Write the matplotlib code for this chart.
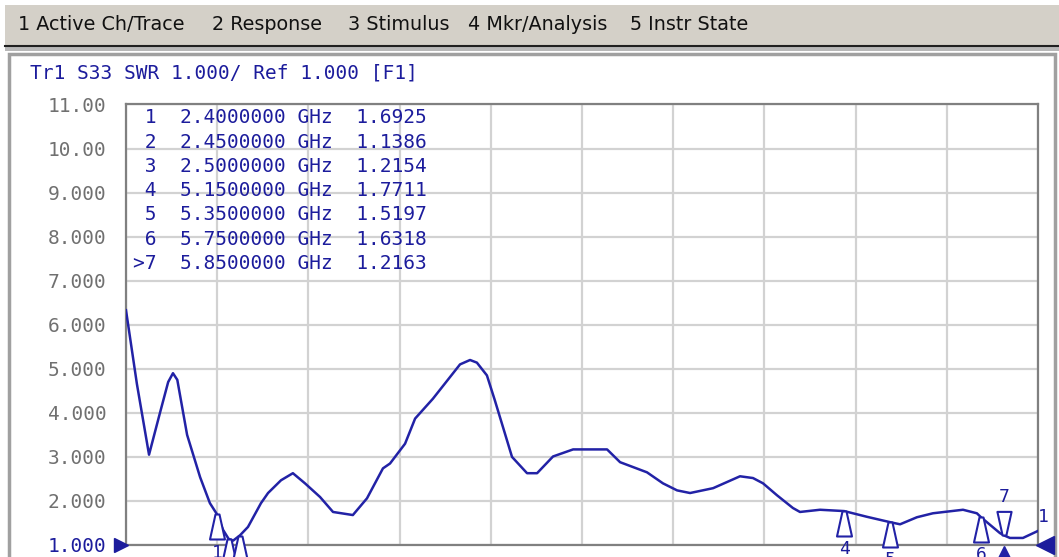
import matplotlib
matplotlib.use('Agg')
import matplotlib.pyplot as plt
from matplotlib.patches import Rectangle
from matplotlib.lines import Line2D
from matplotlib.path import Path
from matplotlib.transforms import offset_copy

# Menu bar items of the analyzer window
menu_items = ['1 Active Ch/Trace', '2 Response', '3 Stimulus', '4 Mkr/Analysis', '5 Instr State']
title = 'Tr1 S33 SWR 1.000/ Ref 1.000 [F1]'

# SWR trace, frequency in GHz
freq = [2.000, 2.048, 2.101, 2.149, 2.185, 2.206, 2.225, 2.268, 2.325, 2.368,
        2.400, 2.425, 2.450, 2.470, 2.500, 2.535, 2.592, 2.623, 2.680, 2.732,
        2.785, 2.851, 2.908, 2.995, 3.057, 3.127, 3.158, 3.224, 3.268, 3.346,
        3.465, 3.509, 3.539, 3.583, 3.618, 3.662, 3.693, 3.759, 3.803, 3.873,
        3.961, 4.110, 4.167, 4.285, 4.355, 4.417, 4.474, 4.575, 4.693, 4.750,
        4.794, 4.855, 4.925, 4.956, 5.044, 5.150, 5.250, 5.350, 5.395, 5.469,
        5.539, 5.671, 5.732, 5.750, 5.833, 5.850, 5.877, 5.934, 6.000]
swr = [6.33, 4.65, 3.05, 4.00, 4.70, 4.90, 4.75, 3.50, 2.54, 1.95,
       1.69, 1.35, 1.14, 1.10, 1.22, 1.41, 1.95, 2.18, 2.47, 2.63,
       2.40, 2.09, 1.75, 1.68, 2.06, 2.74, 2.85, 3.30, 3.87, 4.32,
       5.10, 5.20, 5.14, 4.85, 4.28, 3.53, 3.00, 2.63, 2.63, 3.01,
       3.17, 3.17, 2.88, 2.65, 2.40, 2.24, 2.18, 2.29, 2.56, 2.52,
       2.40, 2.13, 1.84, 1.75, 1.80, 1.77, 1.64, 1.52, 1.47, 1.63,
       1.72, 1.80, 1.72, 1.63, 1.27, 1.22, 1.16, 1.16, 1.32]

# Marker table
marker_ids = ['1', '2', '3', '4', '5', '6', '>7']
marker_freq = [2.40, 2.45, 2.50, 5.15, 5.35, 5.75, 5.85]
marker_swr = [1.6925, 1.1386, 1.2154, 1.7711, 1.5197, 1.6318, 1.2163]

y_ticks = [1, 2, 3, 4, 5, 6, 7, 8, 9, 10, 11]
y_labels = ['1.000', '2.000', '3.000', '4.000', '5.000', '6.000', '7.000',
            '8.000', '9.000', '10.00', '11.00']
x_ticks = [2.0, 2.4, 2.8, 3.2, 3.6, 4.0, 4.4, 4.8, 5.2, 5.6, 6.0]

W, H = 1059, 557
BLUE = '#2222a6'
TXT_BLUE = '#1c1c9c'
MONO = 'DejaVu Sans Mono'


def fx(px):
    return px / W


def fy(py):
    return 1 - py / H


fig = plt.figure(figsize=(W / 100, H / 100), dpi=100)
fig.patch.set_facecolor('white')

# window chrome: menu bar, separator and panel frame (kept behind the axes)
fig.patches.append(Rectangle((fx(5), fy(46)), fx(W), 41 / H, transform=fig.transFigure,
                             facecolor='#d4d0c8', edgecolor='none', zorder=-10))
fig.lines.append(Line2D([fx(5), 1], [fy(46), fy(46)], transform=fig.transFigure,
                        color='#202020', lw=1.5, zorder=-9))
fig.patches.append(Rectangle((fx(5), fy(51)), fx(W), 4 / H, transform=fig.transFigure,
                             facecolor='#b8b8b8', edgecolor='none', zorder=-10))
fig.patches.append(Rectangle((fx(9), fy(H + 5)), fx(1055 - 9), (H + 5 - 54) / H,
                             transform=fig.transFigure, facecolor='white',
                             edgecolor='#a0a0a0', lw=2.5, zorder=-10))

menu_x = [18, 212, 348, 468, 630]
for txt, x in zip(menu_items, menu_x):
    fig.text(fx(x), fy(25), txt, fontsize=13.8, color='#111111', ha='left', va='center',
             family='DejaVu Sans')

fig.text(fx(30), fy(73), title, fontsize=14, color=TXT_BLUE, ha='left', va='center', family=MONO)

ax = fig.add_axes([fx(126), fy(545), fx(1038 - 126), (545 - 104.5) / H])
ax.patch.set_alpha(0)
ax.set_xlim(2.0, 6.0)
ax.set_ylim(1, 11)
ax.set_xticks(x_ticks)
ax.set_xticklabels([])
ax.set_yticks(y_ticks)
ax.set_yticklabels(y_labels, family=MONO, fontsize=14, color='#707070')
ax.get_yticklabels()[0].set_color(TXT_BLUE)
ax.tick_params(length=0, pad=14)
ax.grid(True, color='#d2d2d2', lw=1.6)
ax.set_axisbelow(True)
for s in ax.spines.values():
    s.set_color('#808080')
    s.set_linewidth(1.6)

ax.plot(freq, swr, color=BLUE, lw=1.8, zorder=3)

# marker symbols: open triangles with the tip on the trace
up_path = Path([(0, 0), (-0.08, 0), (-0.3, -1), (0.3, -1), (0.08, 0), (0, 0)],
               [Path.MOVETO] + [Path.LINETO] * 4 + [Path.CLOSEPOLY])
down_path = Path([(0, 0), (-0.08, 0), (-0.3, 1), (0.3, 1), (0.08, 0), (0, 0)],
                 [Path.MOVETO] + [Path.LINETO] * 4 + [Path.CLOSEPOLY])
for mid, f, v in zip(marker_ids, marker_freq, marker_swr):
    num = mid.lstrip('>')
    if mid.startswith('>'):
        ax.plot([f], [v], marker=down_path, ms=34, mfc='white', mec=BLUE, mew=1.5,
                clip_on=False, zorder=4)
        ax.annotate(num, (f, v), xytext=(0, 21), textcoords='offset points',
                    ha='center', va='bottom', fontsize=13, color=TXT_BLUE, family=MONO,
                    annotation_clip=False)
        # stimulus position of the active marker under the axis
        ax.plot([f], [1], marker='^', ms=9, color=BLUE, clip_on=False, zorder=5,
                transform=offset_copy(ax.transData, fig, x=0, y=-7, units='dots'))
    else:
        ax.plot([f], [v], marker=up_path, ms=36, mfc='white', mec=BLUE, mew=1.5,
                clip_on=False, zorder=4)
        ax.annotate(num, (f, v), xytext=(0, -21), textcoords='offset points',
                    ha='center', va='top', fontsize=13, color=TXT_BLUE, family=MONO,
                    annotation_clip=False)

# reference level pointers
ax.plot([2.0], [1], marker='>', ms=10, color=TXT_BLUE, clip_on=False, zorder=5,
        transform=offset_copy(ax.transData, fig, x=-5, y=0, units='dots'))
ax.plot([6.0], [1], marker='<', ms=13, color=TXT_BLUE, clip_on=False, zorder=5,
        transform=offset_copy(ax.transData, fig, x=7, y=0, units='dots'))
ax.annotate('1', (6.0, 1), xytext=(4, 14), textcoords='offset points', ha='center',
            va='bottom', fontsize=13, color=TXT_BLUE, family=MONO, annotation_clip=False)

# marker readout table
for i, (mid, f, v) in enumerate(zip(marker_ids, marker_freq, marker_swr)):
    line = f'{mid:>2}  {f:.7f} GHz  {v:.4f}'
    fig.text(fx(133), fy(118 + i * 24.2), line, fontsize=14, color=TXT_BLUE,
             ha='left', va='center', family=MONO)

fig.savefig('out.png', dpi=100)
